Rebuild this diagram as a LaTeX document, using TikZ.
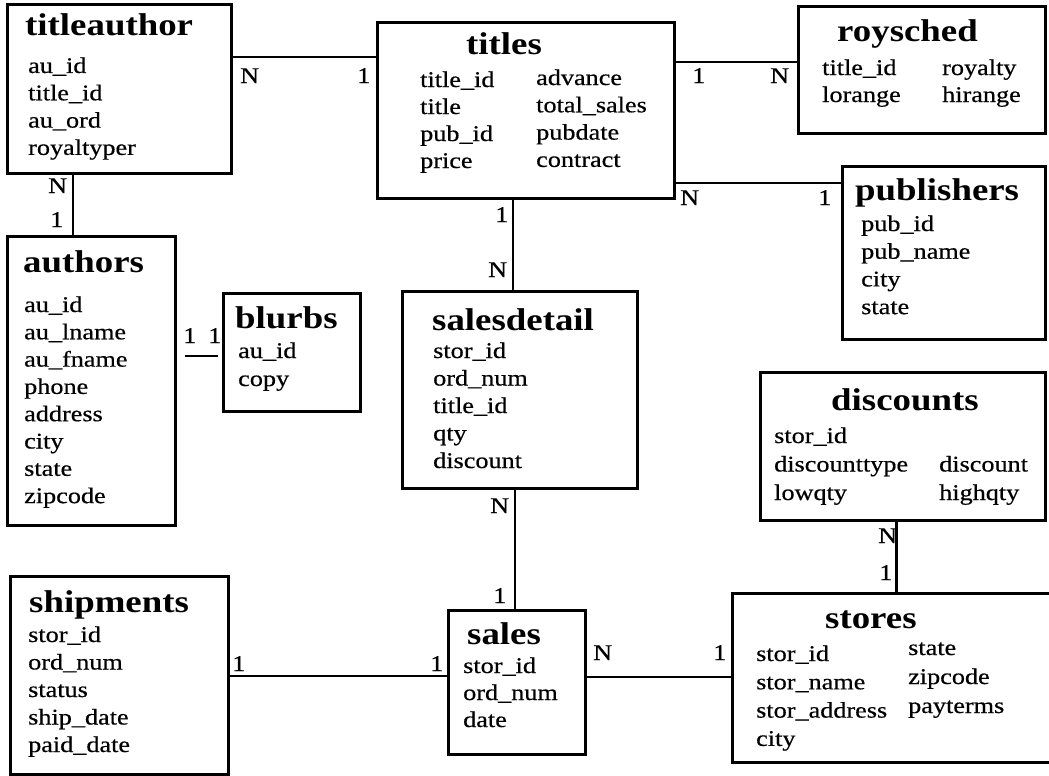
\documentclass[tikz,border=0pt]{standalone}
\usepackage{fontspec}
\setmainfont{Liberation Serif}[FakeStretch=1.17]
\newfontfamily\fldfam{Liberation Serif}[FakeStretch=1.17,FakeBold=0.5]
\usetikzlibrary{positioning,calc}
\tikzset{
  tbl/.style={draw, line width=3pt, inner sep=0pt},
  link/.style={line width=2.8pt},
  ttl/.style={anchor=base west, inner sep=0pt, font=\fontsize{31.5}{36}\selectfont\bfseries},
  fld/.style={anchor=base west, inner sep=0pt, font=\fldfam\fontsize{22.4}{27}\selectfont},
  mult/.style={fld},
}
\newcommand{\fieldcol}[5]{\foreach \f [count=\i] in {#5} \node[fld] (#1-\i) at (#2,{#3+#4*(\i-1)}) {\f};}

\begin{document}
\begin{tikzpicture}[x=1pt,y=-1pt]
 \clip (0,0) rectangle (1049,776);
 % tables
 \foreach \n/\cx/\cy/\w/\h in {titleauthor/119/89/224/168, titles/525.5/110.5/297/175,
   roysched/921.5/70/247/126, publishers/943.5/252.5/203/173, authors/91/380.5/168/289,
   blurbs/291.5/352/137/118, salesdetail/519.5/389.5/235/197, discounts/902.5/446/285/148,
   shipments/119/675/218/198, sales/516.5/682/137/144, stores/898.5/677.5/333/169}
   \node[tbl, minimum width=\w pt, minimum height=\h pt] (\n) at (\cx,\cy) {};
 \foreach \n/\x/\y in {titleauthor/25/36, titles/466/55, roysched/837/42, publishers/855/200,
   authors/23/272, blurbs/235/328, salesdetail/432/330, discounts/831/410,
   shipments/29/612, sales/467/644, stores/825/628}
   \node[ttl] (\n-t) at (\x,\y) {\n};
 % fields
 \fieldcol{titleauthor-f}{28}{73}{27.3}{au\_id,title\_id,au\_ord,royaltyper}
 \fieldcol{titles-a}{420}{87}{27}{title\_id,title,pub\_id,price}
 \fieldcol{titles-b}{536}{85}{27.3}{advance,total\_sales,pubdate,contract}
 \fieldcol{roysched-a}{822}{75}{27}{title\_id,lorange}
 \fieldcol{roysched-b}{942}{75}{27}{royalty,hirange}
 \fieldcol{publishers-f}{861}{231}{27.7}{pub\_id,pub\_name,city,state}
 \fieldcol{authors-f}{24}{312}{27.3}{au\_id,au\_lname,au\_fname,phone,address,city,state,zipcode}
 \fieldcol{blurbs-f}{238}{358}{28}{au\_id,copy}
 \fieldcol{salesdetail-f}{433}{358}{27.5}{stor\_id,ord\_num,title\_id,qty,discount}
 \fieldcol{discounts-a}{774}{443}{28.5}{stor\_id,discounttype,lowqty}
 \fieldcol{discounts-b}{939}{471.5}{28.5}{discount,highqty}
 \fieldcol{shipments-f}{28}{642}{27.5}{stor\_id,ord\_num,status,ship\_date,paid\_date}
 \fieldcol{sales-f}{463}{673}{27}{stor\_id,ord\_num,date}
 \fieldcol{stores-a}{756}{661}{28.3}{stor\_id,stor\_name,stor\_address,city}
 \fieldcol{stores-b}{908}{655}{29}{state,zipcode,payterms}
 % relationships
 \coordinate (ta-ti) at ([yshift=32pt]titleauthor.east);
 \draw[link] (ta-ti) -- (ta-ti -| titles.west);
 \coordinate (ti-ro) at ([yshift=48.5pt]titles.east);
 \draw[link] (ti-ro) -- (ti-ro -| roysched.west);
 \coordinate (ti-pu) at ([yshift=-72.5pt]titles.east);
 \draw[link] (ti-pu) -- (ti-pu -| publishers.west);
 \coordinate (ta-au) at ([xshift=-46pt]titleauthor.south);
 \draw[link] (ta-au) -- (ta-au |- authors.north);
 \coordinate (ti-sd) at ([xshift=-12.5pt]titles.south);
 \draw[link] (ti-sd) -- (ti-sd |- salesdetail.north);
 \coordinate (sd-sa) at ([xshift=-4.5pt]salesdetail.south);
 \draw[link] (sd-sa) -- (sd-sa |- sales.north);
 \coordinate (di-st) at ([xshift=-6pt]discounts.south);
 \draw[link] (di-st) -- (di-st |- stores.north);
 \coordinate (sh-sa) at ([yshift=-1pt]shipments.east);
 \draw[link] (sh-sa) -- (sh-sa -| sales.west);
 \coordinate (sa-st) at ([yshift=5pt]sales.east);
 \draw[link] (sa-st) -- (sa-st -| stores.west);
 \coordinate (au-bl) at ([xshift=8pt,yshift=24.5pt]authors.east);
 \coordinate (bl-au) at ($(au-bl -| blurbs.west)+(-4pt,0)$);
 \draw[link] (au-bl) -- (bl-au);
 % cardinalities
 \foreach \n/\t/\x/\y in {ta-ti-a/N/240/83, ta-ti-b/1/357/83, ti-ro-a/1/692/83, ti-ro-b/N/770/83,
   ti-pu-a/N/680/205, ti-pu-b/1/818/205, ta-au-a/N/48/193, ta-au-b/1/50/227,
   ti-sd-a/1/495/222, ti-sd-b/N/488/277, au-bl-a/1/183/343, au-bl-b/1/208/343,
   sd-sa-a/N/490/513, sd-sa-b/1/493/603, di-st-a/N/878/543, di-st-b/1/879/580,
   sh-sa-a/1/232/671, sh-sa-b/1/430/671, sa-st-a/N/593/660, sa-st-b/1/713/660}
   \node[mult] (\n) at (\x,\y) {\t};
\end{tikzpicture}
\end{document}
